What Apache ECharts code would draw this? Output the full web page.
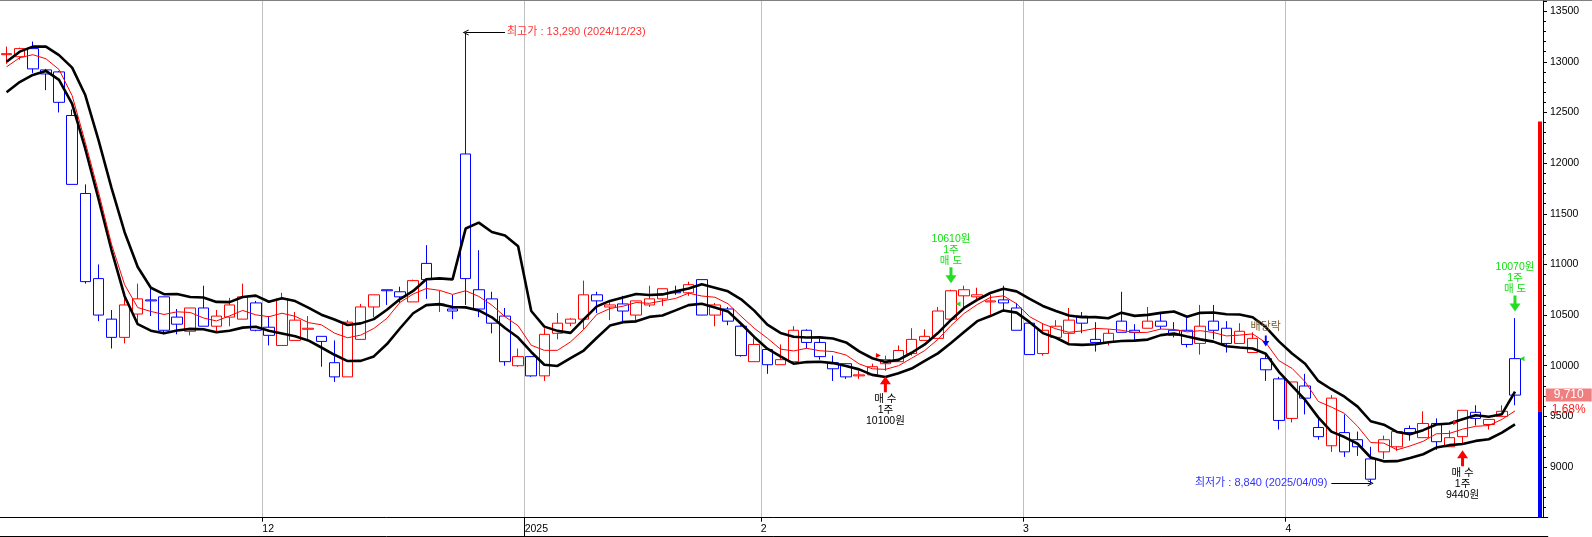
<!DOCTYPE html>
<html><head><meta charset="utf-8">
<script src="https://cdn.jsdelivr.net/npm/echarts@6/dist/echarts.min.js"></script>
<style>html,body{margin:0;padding:0;background:#fff}#c{width:1592px;height:537px}</style>
</head><body><div id="c"></div>
<script>
const dates = [
'2024/11/04','2024/11/05','2024/11/06','2024/11/07','2024/11/08','2024/11/11','2024/11/12','2024/11/13','2024/11/14','2024/11/15','2024/11/18','2024/11/19','2024/11/20','2024/11/21','2024/11/22','2024/11/25','2024/11/26','2024/11/27','2024/11/28','2024/11/29',
'2024/12/02','2024/12/03','2024/12/04','2024/12/05','2024/12/06','2024/12/09','2024/12/10','2024/12/11','2024/12/12','2024/12/13','2024/12/16','2024/12/17','2024/12/18','2024/12/19','2024/12/20','2024/12/23','2024/12/24','2024/12/26','2024/12/27','2024/12/30',
'2025/01/02','2025/01/03','2025/01/06','2025/01/07','2025/01/08','2025/01/09','2025/01/10','2025/01/13','2025/01/14','2025/01/15','2025/01/16','2025/01/17','2025/01/20','2025/01/21','2025/01/22','2025/01/23','2025/01/24','2025/01/31',
'2025/02/03','2025/02/04','2025/02/05','2025/02/06','2025/02/07','2025/02/10','2025/02/11','2025/02/12','2025/02/13','2025/02/14','2025/02/17','2025/02/18','2025/02/19','2025/02/20','2025/02/21','2025/02/24','2025/02/25','2025/02/26','2025/02/27','2025/02/28',
'2025/03/04','2025/03/05','2025/03/06','2025/03/07','2025/03/10','2025/03/11','2025/03/12','2025/03/13','2025/03/14','2025/03/17','2025/03/18','2025/03/19','2025/03/20','2025/03/21','2025/03/24','2025/03/25','2025/03/26','2025/03/27','2025/03/28','2025/03/31',
'2025/04/01','2025/04/02','2025/04/03','2025/04/04','2025/04/07','2025/04/08','2025/04/09','2025/04/10','2025/04/11','2025/04/14','2025/04/15','2025/04/16','2025/04/17','2025/04/18','2025/04/21','2025/04/22','2025/04/23','2025/04/24'
];
const futureDates = ['2025/04/25','2025/04/28'];

const openP = [13070,13050,13130,12920,12900,12470,11700,10860,10460,10280,
 10510,10650,10680,10480,10340,10570,10390,10480,10460,10620,
 10380,10200,10250,10360,10290,10030,9890,10260,10580,10750,
 10730,10630,11010,10600,10560,12090,10750,10660,10490,10000,
 10090,9900,10320,10420,10460,10700,10580,10610,10500,10600,
 10660,10730,10720,10850,10500,10560,10390,10040,10160,10010,
 10040,10350,10230,10030,10020,9900,9910,10020,10040,10120,
 10250,10270,10460,10690,10680,10630,10650,10570,10420,10120,
 10280,10320,10490,10260,10230,10440,10350,10370,10440,10350,
 10350,10220,10440,10370,10220,10130,10070,9870,9480,9800,
 9390,9210,9340,9270,9080,9150,9200,9380,9290,9430,
 9200,9300,9540,9420,9500,10070];
const closeP = [13080,13130,12930,12880,12600,11790,10830,10500,10280,10600,
 10660,10640,10350,10410,10570,10390,10490,10600,10680,10350,
 10300,10660,10450,10370,10240,9890,10430,10580,10700,10740,
 10680,10840,10850,10610,10540,10860,10560,10420,10040,10090,
 9900,10310,10420,10460,10700,10640,10600,10540,10640,10660,
 10760,10720,10800,10500,10600,10440,10100,10210,10010,10060,
 10350,10230,10090,9970,9890,9910,9990,10060,10150,10260,
 10290,10540,10740,10750,10700,10640,10620,10350,10110,10350,
 10390,10450,10420,10230,10320,10330,10330,10440,10390,10300,
 10210,10390,10350,10220,10340,10270,9960,9460,9840,9680,
 9300,9680,9150,9200,8880,9270,9350,9340,9430,9250,
 9290,9560,9480,9470,9550,9710];
const lowP = [12980,13020,12890,12720,12500,11790,10810,10440,10170,10220,
 10410,10490,10310,10310,10300,10390,10340,10390,10460,10340,
 10200,10200,10250,10260,9990,9840,9890,10260,10480,10600,
 10620,10630,10660,10530,10460,10600,10480,10320,10000,9990,
 9890,9850,10260,10390,10360,10520,10450,10430,10430,10580,
 10590,10700,10690,10500,10390,10400,10090,10040,9920,10010,
 10040,10170,10060,9850,9870,9870,9900,9950,10040,10100,
 10250,10270,10460,10580,10640,10500,10550,10350,10110,10100,
 10270,10230,10320,10140,10200,10330,10250,10370,10360,10280,
 10180,10110,10260,10130,10220,10130,9850,9370,9440,9520,
 9270,9150,9100,9110,8840,9080,9160,9260,9290,9170,
 9200,9220,9410,9370,9500,9610];
const highP = [13150,13140,13200,12930,12910,12530,11790,11000,10550,10720,
 10810,10770,10680,10560,10570,10790,10550,10670,10810,10640,
 10490,10720,10530,10490,10290,10250,10450,10610,10700,10750,
 10780,10850,11190,10740,10700,13290,11140,10730,10570,10170,
 10090,10370,10520,10470,10840,10730,10640,10690,10640,10790,
 10760,10790,10830,10850,10620,10580,10400,10270,10160,10210,
 10390,10360,10280,10100,10020,9950,10020,10100,10200,10370,
 10360,10580,10750,10790,10770,10700,10790,10620,10420,10420,
 10450,10570,10530,10430,10360,10730,10410,10580,10530,10430,
 10470,10600,10600,10440,10420,10330,10120,9890,9840,9920,
 9480,9710,9520,9350,9200,9310,9350,9410,9550,9480,
 9360,9560,9610,9470,9610,10470];

// 5-day average lines
const maClose = [12950,13040,13070,13030,12924,12666,12206,11720,11200,10800,
 10574,10536,10506,10532,10526,10472,10442,10492,10546,10502,
 10484,10518,10488,10426,10404,10322,10276,10302,10368,10468,
 10626,10708,10762,10744,10704,10740,10684,10598,10484,10394,
 10202,10152,10152,10236,10358,10506,10564,10588,10624,10616,
 10640,10664,10716,10688,10676,10612,10488,10370,10272,10164,
 10146,10172,10148,10140,10106,10018,9970,9964,10000,10074,
 10150,10260,10396,10516,10604,10674,10690,10612,10484,10414,
 10364,10330,10344,10368,10362,10350,10326,10330,10362,10358,
 10334,10346,10328,10294,10302,10314,10228,10050,9974,9842,
 9648,9592,9530,9402,9242,9236,9170,9208,9254,9328,
 9332,9374,9402,9410,9470,9554];
const maHigh = [13000,13100,13150,13150,13066,12942,12672,12232,11756,11318,
 10974,10770,10706,10708,10678,10674,10630,10628,10678,10692,
 10632,10666,10638,10574,10504,10456,10402,10418,10460,10552,
 10658,10738,10854,10862,10852,11354,11412,11320,11286,11180,
 10540,10386,10344,10324,10458,10586,10640,10674,10708,10698,
 10704,10734,10762,10804,10770,10734,10656,10544,10406,10324,
 10286,10278,10280,10268,10230,10142,10074,10038,10058,10128,
 10210,10322,10452,10570,10650,10718,10760,10734,10660,10590,
 10540,10496,10478,10480,10468,10524,10492,10502,10522,10536,
 10484,10522,10526,10508,10506,10478,10382,10240,10120,10020,
 9850,9768,9694,9596,9452,9418,9346,9324,9364,9420,
 9430,9472,9512,9496,9522,9744];
const maLow = [12700,12800,12870,12910,12822,12584,12142,11652,11142,10686,
 10410,10346,10320,10348,10364,10360,10330,10346,10376,10384,
 10346,10318,10290,10250,10180,10108,10046,10048,10092,10214,
 10370,10518,10598,10608,10580,10576,10546,10478,10372,10278,
 10136,10010,9998,10076,10150,10276,10396,10430,10438,10482,
 10496,10546,10598,10612,10574,10536,10414,10284,10168,10092,
 10020,10036,10040,10026,9998,9964,9910,9888,9926,9972,
 10048,10122,10224,10332,10440,10490,10546,10524,10430,10322,
 10276,10212,10206,10212,10232,10244,10248,10258,10302,10318,
 10288,10260,10238,10192,10180,10170,10118,9940,9802,9662,
 9490,9350,9296,9230,9094,9056,9058,9090,9126,9192,
 9216,9228,9258,9274,9340,9422];

const xTickLabels = ['12','2025','2','3','4'];
const yMin = 8500, yMax = 13600, yStep = 500;
const limitUp = 12410, prevClose = 9550, limitDown = 6690;
const lastPrice = 9710, lastChange = '1.68%';
const highMark = {date:'2024/12/23', value:13290, text:'최고가'};
const lowMark = {date:'2025/04/09', value:8840, text:'최저가'};
const trades = [
  {date:'2025/02/14', side:'buy', price:10100},
  {date:'2025/02/21', side:'sell', price:10610},
  {date:'2025/04/18', side:'buy', price:9440},
  {date:'2025/04/24', side:'sell', price:10070}
];
const exDiv = {date:'2025/03/28', text:'배당락'};

const FONT = "'Liberation Sans', Arial, 'Noto Sans CJK KR', sans-serif";
const categories = dates.concat(futureDates);
const nB = categories.length + 1;
const boundaryCats = Array.from({length:nB}, (_, k) => 'b' + k);
const tickIdx = [];
for (let i = 1; i < dates.length; i++) {
  if (dates[i].slice(5,7) !== dates[i-1].slice(5,7)) tickIdx.push(i);
}
const tickSet = new Set(tickIdx);
const labelAt = {}; tickIdx.forEach((k, j) => { labelAt[k] = xTickLabels[j]; });
const yearSet = new Set(tickIdx.filter(k => dates[k].slice(5,7) === '01'));
const fmt = v => v.toLocaleString('en-US');

const downArrow = 'path://M4,0 L7,0 L7,8 L11,8 L5.5,16 L0,8 L4,8 Z';
const upArrow = 'path://M5.5,0 L11,8 L7,8 L7,16 L4,16 L4,8 L0,8 Z';
const chevron = 'path://M0,6 L3,0 L6,6 L5,6 L3,1.8 L1,6 Z';

const markPoints = [];
trades.forEach(t => {
  const i = dates.indexOf(t.date);
  const buy = t.side === 'buy';
  markPoints.push({
    coord: [i, buy ? lowP[i] : highP[i]],
    symbol: buy ? upArrow : downArrow, symbolSize: [11, 16],
    symbolOffset: [0, buy ? 13.5 : -14.5],
    itemStyle: {color: buy ? '#ff0000' : '#22dd22'},
    label: {show: true, position: buy ? 'bottom' : 'top', distance: 1,
      formatter: buy ? ('매 수\n1주\n' + t.price + '원') : (t.price + '원\n1주\n매 도'),
      color: buy ? '#000000' : '#11dd11', fontSize: 10.5, lineHeight: 11, fontFamily: FONT}
  });
  markPoints.push({
    coord: [i, t.price], symbol: 'triangle', symbolSize: [5, 5],
    symbolRotate: buy ? -90 : 90, symbolOffset: [buy ? -7 : 7, 0],
    itemStyle: {color: buy ? '#ff0000' : '#22dd22'}, label: {show: false}
  });
});
(function(){
  const i = dates.indexOf(exDiv.date);
  markPoints.push({
    coord: [i, highP[i]], symbol: downArrow, symbolSize: [7, 11], symbolOffset: [0, -12.5],
    itemStyle: {color: '#0000ff'},
    label: {show: true, position: 'top', distance: 3, formatter: exDiv.text, color: '#7b5b2b', fontSize: 11, fontFamily: FONT}
  });
})();

const hi = dates.indexOf(highMark.date), lo = dates.indexOf(lowMark.date);
const markLines = [
  [{coord: [hi + 3, highMark.value], symbol: 'none',
    lineStyle: {color: '#000', width: 1, type: 'solid'},
    label: {show: true, position: 'start', distance: 2, color: '#ff3333', fontSize: 11, fontFamily: FONT,
      formatter: highMark.text + ' : ' + fmt(highMark.value) + ' (' + highMark.date + ')'}},
   {coord: [hi, highMark.value], symbol: chevron, symbolSize: [6, 6]}],
  [{coord: [lo - 3, lowMark.value], symbol: 'none',
    lineStyle: {color: '#000', width: 1, type: 'solid'},
    label: {show: true, position: 'start', distance: 4, color: '#3333ff', fontSize: 11, fontFamily: FONT,
      formatter: lowMark.text + ' : ' + fmt(lowMark.value) + ' (' + lowMark.date + ')'}},
   {coord: [lo, lowMark.value], symbol: chevron, symbolSize: [6, 6]}]
];

const AXIS_SHIFT = -4.8;
const chart = echarts.init(document.getElementById('c'), null, {renderer: 'canvas'});
chart.setOption({
  animation: false,
  backgroundColor: '#ffffff',
  grid: {left: -1.3, right: 44.2, top: 1, bottom: 19.3, containLabel: false},
  xAxis: [
    {type: 'category', position: 'bottom', data: categories, boundaryGap: true,
     axisLine: {show: true, onZero: false, lineStyle: {color: '#000', width: 1}},
     axisTick: {show: false}, axisLabel: {show: false}, splitLine: {show: false}},
    {type: 'category', position: 'bottom', data: boundaryCats, boundaryGap: false,
     axisLine: {show: false, onZero: false},
     axisTick: {show: true, interval: i => tickSet.has(i), length: 4, lineStyle: {color: '#000'}},
     axisLabel: {show: true, interval: i => tickSet.has(i), formatter: (v, i) => labelAt[i] || '',
       align: 'left', margin: 6, fontSize: 10.5, color: '#000', fontFamily: FONT},
     splitLine: {show: true, interval: i => tickSet.has(i), lineStyle: {color: '#c0c0c0', width: 1}}},
    {type: 'category', position: 'bottom', offset: 19, data: boundaryCats, boundaryGap: false,
     axisLine: {show: true, onZero: false, lineStyle: {color: '#000', width: 1}},
     axisTick: {show: true, inside: true, length: 19, interval: i => yearSet.has(i), lineStyle: {color: '#000'}},
     axisLabel: {show: false}, splitLine: {show: false}}
  ],
  yAxis: [{type: 'value', position: 'right', offset: AXIS_SHIFT, min: yMin, max: yMax, interval: yStep,
    axisLine: {show: true, lineStyle: {color: '#000', width: 1}},
    axisTick: {show: true, length: 4, lineStyle: {color: '#000'}},
    minorTick: {show: true, splitNumber: 5, length: 3, lineStyle: {color: '#000'}},
    axisLabel: {margin: 7, fontSize: 10.5, color: '#000', fontFamily: FONT, showMinLabel: false, showMaxLabel: false,
      formatter: v => String(v)},
    splitLine: {show: false}}],
  series: [
    {type: 'candlestick', name: 'price', xAxisIndex: 0, yAxisIndex: 0,
     data: dates.map((d, i) => [openP[i], closeP[i], lowP[i], highP[i]]),
     barWidth: 11,
     itemStyle: {color: 'rgba(0,0,0,0)', color0: 'rgba(0,0,0,0)', borderColor: '#ff0000', borderColor0: '#0000ff', borderWidth: 1},
     markPoint: {silent: true, animation: false, data: markPoints},
     markLine: {silent: true, animation: false, symbol: ['none','none'], precision: 0, data: markLines},
     z: 2},
    {type: 'line', name: 'maHigh', data: maHigh, xAxisIndex: 0, showSymbol: false, symbol: 'none',
     lineStyle: {color: '#000', width: 2.6}, z: 3},
    {type: 'line', name: 'maLow', data: maLow, xAxisIndex: 0, showSymbol: false, symbol: 'none',
     lineStyle: {color: '#000', width: 2.6}, z: 3},
    {type: 'line', name: 'maClose', data: maClose, xAxisIndex: 0, showSymbol: false, symbol: 'none',
     lineStyle: {color: '#ff0000', width: 1}, z: 3},
    {type: 'custom', name: 'limits', xAxisIndex: 0, yAxisIndex: 0, clip: false, silent: true, z: 4,
     data: [[limitUp, prevClose, 0], [prevClose, limitDown, 0]],
     encode: {x: 2, y: [0, 1]},
     renderItem: (params, api) => {
       const cs = params.coordSys;
       let y1 = api.coord([0, api.value(0)])[1];
       let y2 = api.coord([0, api.value(1)])[1];
       y1 = Math.max(cs.y, Math.min(cs.y + cs.height, y1));
       y2 = Math.max(cs.y, Math.min(cs.y + cs.height, y2));
       const xr = cs.x + cs.width + AXIS_SHIFT;
       return {type: 'rect', shape: {x: xr - 5, y: Math.min(y1, y2), width: 4, height: Math.abs(y2 - y1)},
         style: {fill: params.dataIndex === 0 ? '#ff0000' : '#0000ff'}};
     }},
    {type: 'custom', name: 'lastPrice', xAxisIndex: 0, yAxisIndex: 0, clip: false, silent: true, z: 10,
     data: [[lastPrice, 0]], encode: {x: 1, y: 0},
     renderItem: (params, api) => {
       const cs = params.coordSys;
       const y = api.coord([0, api.value(0)])[1];
       const x0 = cs.x + cs.width + AXIS_SHIFT + 2.7;
       const w = 46;
       return {type: 'group', children: [
         {type: 'rect', shape: {x: x0, y: y - 6.5, width: w, height: 13}, style: {fill: '#f08080'}},
         {type: 'text', style: {x: x0 + w / 2, y: y, text: fmt(lastPrice), fill: '#ffffff',
           font: '12px ' + FONT, textAlign: 'center', textVerticalAlign: 'middle'}},
         {type: 'text', style: {x: x0 + w / 2, y: y + 14.5, text: lastChange, fill: '#ff2020',
           font: '12px ' + FONT, textAlign: 'center', textVerticalAlign: 'middle'}}
       ]};
     }}
  ],
  graphic: [{type: 'line', shape: {x1: 0, y1: 0.5, x2: 1592, y2: 0.5}, style: {stroke: '#808080', lineWidth: 1}, silent: true}]
});
</script></body></html>
